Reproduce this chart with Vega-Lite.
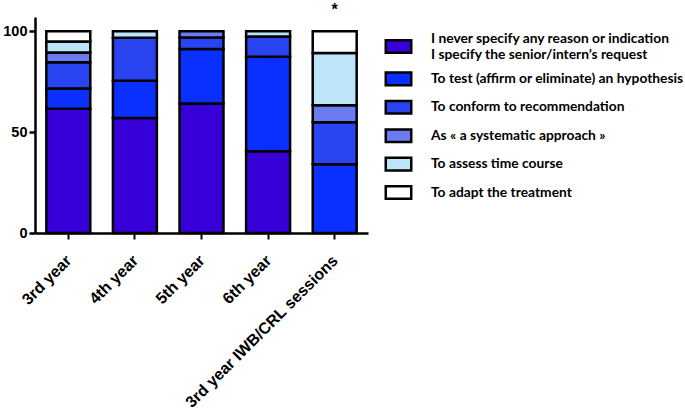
{
  "$schema": "https://vega.github.io/schema/vega-lite/v6.json",
  "autosize": "none",
  "width": 333,
  "height": 216,
  "padding": {"left": 35, "top": 17, "right": 317, "bottom": 178},
  "background": "white",
  "config": {
    "view": {"stroke": null},
    "font": "Liberation Sans",
    "style": {"guide-label": {"lineHeight": 16}}
  },
  "layer": [
    {
      "data": {
        "values": [
          {"group": "3rd year", "reason": "I never specify any reason or indication|I specify the senior/intern’s request", "idx": 1, "pct": 61.5},
          {"group": "3rd year", "reason": "To test (affirm or eliminate) an hypothesis", "idx": 2, "pct": 10.1},
          {"group": "3rd year", "reason": "To conform to recommendation", "idx": 3, "pct": 13.0},
          {"group": "3rd year", "reason": "As « a systematic approach »", "idx": 4, "pct": 4.8},
          {"group": "3rd year", "reason": "To assess time course", "idx": 5, "pct": 5.5},
          {"group": "3rd year", "reason": "To adapt the treatment", "idx": 6, "pct": 5.1},
          {"group": "4th year", "reason": "I never specify any reason or indication|I specify the senior/intern’s request", "idx": 1, "pct": 57.0},
          {"group": "4th year", "reason": "To test (affirm or eliminate) an hypothesis", "idx": 2, "pct": 18.4},
          {"group": "4th year", "reason": "To conform to recommendation", "idx": 3, "pct": 21.3},
          {"group": "4th year", "reason": "To assess time course", "idx": 5, "pct": 3.3},
          {"group": "5th year", "reason": "I never specify any reason or indication|I specify the senior/intern’s request", "idx": 1, "pct": 64.2},
          {"group": "5th year", "reason": "To test (affirm or eliminate) an hypothesis", "idx": 2, "pct": 26.9},
          {"group": "5th year", "reason": "To conform to recommendation", "idx": 3, "pct": 5.8},
          {"group": "5th year", "reason": "As « a systematic approach »", "idx": 4, "pct": 3.1},
          {"group": "6th year", "reason": "I never specify any reason or indication|I specify the senior/intern’s request", "idx": 1, "pct": 40.5},
          {"group": "6th year", "reason": "To test (affirm or eliminate) an hypothesis", "idx": 2, "pct": 46.8},
          {"group": "6th year", "reason": "To conform to recommendation", "idx": 3, "pct": 10.1},
          {"group": "6th year", "reason": "To assess time course", "idx": 5, "pct": 2.6},
          {"group": "3rd year IWB/CRL sessions", "reason": "To test (affirm or eliminate) an hypothesis", "idx": 2, "pct": 34.1},
          {"group": "3rd year IWB/CRL sessions", "reason": "To conform to recommendation", "idx": 3, "pct": 20.8},
          {"group": "3rd year IWB/CRL sessions", "reason": "As « a systematic approach »", "idx": 4, "pct": 8.4},
          {"group": "3rd year IWB/CRL sessions", "reason": "To assess time course", "idx": 5, "pct": 25.9},
          {"group": "3rd year IWB/CRL sessions", "reason": "To adapt the treatment", "idx": 6, "pct": 10.8}
        ]
      },
      "mark": {"type": "bar", "stroke": "black", "strokeWidth": 2.5},
      "encoding": {
        "x": {
          "field": "group",
          "type": "nominal",
          "sort": ["3rd year", "4th year", "5th year", "6th year", "3rd year IWB/CRL sessions"],
          "scale": {"paddingInner": 0.34, "paddingOuter": 0.17},
          "axis": {
            "title": null,
            "labelAngle": -45,
            "labelFont": "Liberation Sans",
            "labelFontWeight": "bold",
            "labelFontSize": 16,
            "labelColor": "black",
            "labelLimit": 400,
            "labelPadding": 13,
            "labelOffset": -5,
            "domainColor": "black",
            "domainWidth": 2.5,
            "tickColor": "black",
            "tickWidth": 2,
            "tickSize": 6
          }
        },
        "y": {
          "field": "pct",
          "type": "quantitative",
          "stack": "zero",
          "scale": {"domain": [0, 107], "nice": false},
          "axis": {
            "title": null,
            "values": [0, 50, 100],
            "grid": false,
            "labelFont": "Liberation Sans",
            "labelFontWeight": "bold",
            "labelFontSize": 14.5,
            "labelColor": "black",
            "labelPadding": 2,
            "domainColor": "black",
            "domainWidth": 2.5,
            "tickColor": "black",
            "tickWidth": 2.5,
            "tickSize": 6
          }
        },
        "order": {"field": "idx", "type": "quantitative", "sort": "ascending"},
        "color": {
          "field": "reason",
          "type": "nominal",
          "scale": {
            "domain": [
              "I never specify any reason or indication|I specify the senior/intern’s request",
              "To test (affirm or eliminate) an hypothesis",
              "To conform to recommendation",
              "As « a systematic approach »",
              "To assess time course",
              "To adapt the treatment"
            ],
            "range": ["#3800d8", "#0a30ff", "#2b44f2", "#6a7cf0", "#bde5f8", "#ffffff"]
          },
          "legend": {
            "title": null,
            "orient": "none",
            "legendX": 348,
            "legendY": 14,
            "padding": 0,
            "labelExpr": "split(datum.label, '|')",
            "labelFont": "Lato",
            "labelFontWeight": "bold",
            "labelFontSize": 13.8,
            "labelColor": "black",
            "labelLimit": 400,
            "labelOffset": 17,
            "symbolType": "M-0.91,-0.45L0.91,-0.45L0.91,0.45L-0.91,0.45Z",
            "symbolSize": 784,
            "symbolStrokeColor": "black",
            "symbolStrokeWidth": 2.5,
            "symbolOpacity": 1,
            "rowPadding": 1.4,
            "encode": {
              "labels": {
                "update": {
                  "dy": {"signal": "datum.index === 0 ? -8 : 0"}
                }
              }
            }
          }
        }
      }
    },
    {
      "data": {"values": [{"group": "3rd year IWB/CRL sessions", "pos": 112, "mark": "*"}]},
      "mark": {"type": "text", "fontSize": 16, "fontWeight": "bold", "font": "Liberation Sans", "color": "black", "baseline": "middle", "clip": false, "dy": 3},
      "encoding": {
        "x": {"field": "group", "type": "nominal", "sort": ["3rd year", "4th year", "5th year", "6th year", "3rd year IWB/CRL sessions"]},
        "y": {"field": "pos", "type": "quantitative"},
        "text": {"field": "mark"}
      }
    }
  ]
}
